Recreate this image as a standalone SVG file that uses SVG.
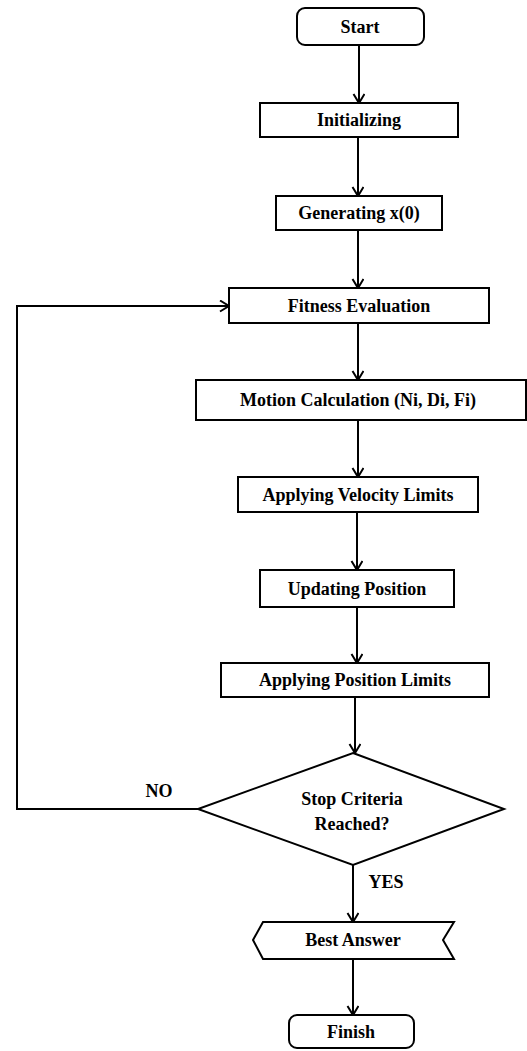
<svg xmlns="http://www.w3.org/2000/svg" width="527" height="1051" viewBox="0 0 527 1051">
<style>
.n{fill:#fff;stroke:#000;stroke-width:2}
.t{font-family:"Liberation Serif","Times New Roman",serif;font-weight:bold;font-size:18px;fill:#000;text-anchor:middle}
.c{fill:none;stroke:#000;stroke-width:2}
</style>
<defs>
<marker id="ah" markerUnits="userSpaceOnUse" markerWidth="14" markerHeight="14" refX="10" refY="6" orient="auto">
<path d="M1,0.5 L10,6 L1,11.5" fill="none" stroke="#000" stroke-width="2"/>
</marker>
</defs>
<rect width="527" height="1051" fill="#fff"/>
<g id="connectors">
<line class="c" x1="359" y1="45" x2="359" y2="103" marker-end="url(#ah)"/>
<line class="c" x1="358" y1="137" x2="358" y2="196" marker-end="url(#ah)"/>
<line class="c" x1="358" y1="230" x2="358" y2="288" marker-end="url(#ah)"/>
<line class="c" x1="358" y1="323" x2="358" y2="380" marker-end="url(#ah)"/>
<line class="c" x1="358" y1="420" x2="358" y2="477" marker-end="url(#ah)"/>
<line class="c" x1="357" y1="512" x2="357" y2="570" marker-end="url(#ah)"/>
<line class="c" x1="357" y1="607" x2="357" y2="663" marker-end="url(#ah)"/>
<line class="c" x1="355" y1="697" x2="355" y2="753" marker-end="url(#ah)"/>
<line class="c" x1="353" y1="865" x2="353" y2="922" marker-end="url(#ah)"/>
<line class="c" x1="353" y1="959" x2="353" y2="1015" marker-end="url(#ah)"/>
<polyline class="c" points="198,809 17,809 17,306 229,306" marker-end="url(#ah)"/>
<text class="t" x="159" y="797">NO</text>
<text class="t" x="386" y="888">YES</text>
</g>
<g id="start"><rect class="n" x="297" y="8" width="127" height="37" rx="8"/><text class="t" x="360" y="33">Start</text></g>
<g id="init"><rect class="n" x="260" y="103" width="198" height="34"/><text class="t" x="359" y="126">Initializing</text></g>
<g id="gen"><rect class="n" x="276" y="196" width="166" height="34"/><text class="t" x="359" y="219">Generating x(0)</text></g>
<g id="fitness"><rect class="n" x="229" y="288" width="260" height="35"/><text class="t" x="359" y="312">Fitness Evaluation</text></g>
<g id="motion"><rect class="n" x="196" y="380" width="330" height="40"/><text class="t" x="358" y="406">Motion Calculation (Ni, Di, Fi)</text></g>
<g id="velocity"><rect class="n" x="238" y="477" width="240" height="35"/><text class="t" x="358" y="501">Applying Velocity Limits</text></g>
<g id="update"><rect class="n" x="260" y="570" width="194" height="37"/><text class="t" x="357" y="595">Updating Position</text></g>
<g id="poslim"><rect class="n" x="221" y="663" width="268" height="34"/><text class="t" x="355" y="686">Applying Position Limits</text></g>
<g id="decision"><polygon class="n" points="353,753 504,809 353,865 198,809"/><text class="t" x="352" y="805">Stop Criteria</text><text class="t" x="352" y="830">Reached?</text></g>
<g id="best"><polygon class="n" points="263,922 454,922 443,940 454,959 263,959 253,940"/><text class="t" x="353" y="946">Best Answer</text></g>
<g id="finish"><rect class="n" x="289" y="1015" width="125" height="33" rx="8"/><text class="t" x="351" y="1038">Finish</text></g>
</svg>
